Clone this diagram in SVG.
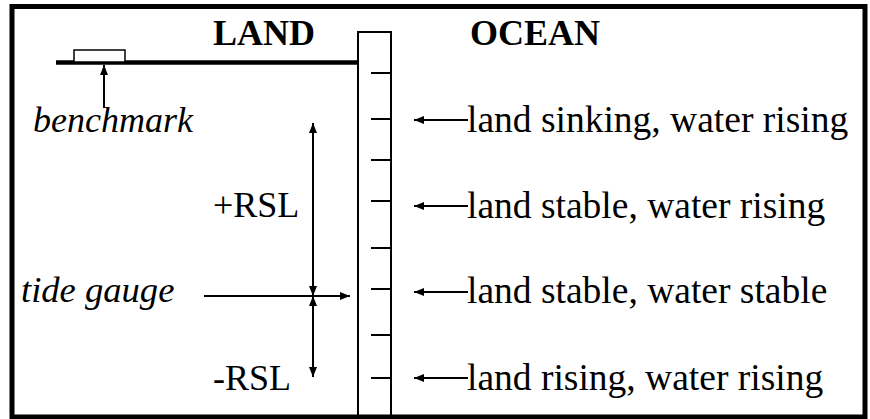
<svg xmlns="http://www.w3.org/2000/svg" width="870" height="419" viewBox="0 0 870 419">
<style>
text{font-family:"Liberation Serif","Times New Roman",serif;font-size:36px;fill:#000}
.b{font-weight:bold}
.i{font-style:italic}
.r{font-size:37.5px}
.ln{stroke:#000;stroke-width:2;fill:none}
</style>
<defs>
<marker id="ah" markerUnits="userSpaceOnUse" markerWidth="10" markerHeight="8" refX="10" refY="4" orient="auto-start-reverse" viewBox="0 0 10 8">
<path d="M0,0 L10,4 L0,8 z" fill="#000"/>
</marker>
</defs>
<rect width="870" height="419" fill="#fff"/>
<g id="gauge">
<rect x="358" y="32" width="33" height="400" fill="#fff" stroke="#000" stroke-width="2"/>
<path class="ln" d="M371,73H391M371,119H391M371,160H391M371,201H391M371,248H391M371,289H391M371,335H391M371,378H391"/>
</g>
<g id="ground">
<line x1="56" y1="62.5" x2="357" y2="62.5" stroke="#000" stroke-width="4.5"/>
</g>
<g id="benchmark">
<rect x="74" y="50" width="51" height="12" fill="#fff" stroke="#000" stroke-width="1.5"/>
<text class="i" x="33" y="132">benchmark</text>
</g>
<g id="labels">
<text class="b" x="213" y="45">LAND</text>
<text class="b" x="470" y="45">OCEAN</text>
<text x="213" y="217">+RSL</text>
<text x="213" y="390">-RSL</text>
<text class="i" x="21" y="302" style="font-size:36.6px">tide gauge</text>
<text class="r" x="467" y="132">land sinking, water rising</text>
<text class="r" x="467" y="218">land stable, water rising</text>
<text class="r" x="467" y="303">land stable, water stable</text>
<text class="r" x="467" y="390">land rising, water rising</text>
</g>
<g id="connectors" class="ln">
<line x1="104" y1="108" x2="104" y2="65" marker-end="url(#ah)"/>
<line x1="204" y1="296" x2="350" y2="296" marker-end="url(#ah)"/>
<line x1="313" y1="296" x2="313" y2="123" marker-start="url(#ah)" marker-end="url(#ah)"/>
<line x1="313" y1="296" x2="313" y2="377" marker-start="url(#ah)" marker-end="url(#ah)"/>
<line x1="468" y1="120" x2="414" y2="120" marker-end="url(#ah)"/>
<line x1="468" y1="206" x2="414" y2="206" marker-end="url(#ah)"/>
<line x1="468" y1="292" x2="414" y2="292" marker-end="url(#ah)"/>
<line x1="468" y1="378" x2="414" y2="378" marker-end="url(#ah)"/>
</g>
<rect x="12" y="6.5" width="853" height="410.5" fill="none" stroke="#000" stroke-width="5"/>
</svg>
